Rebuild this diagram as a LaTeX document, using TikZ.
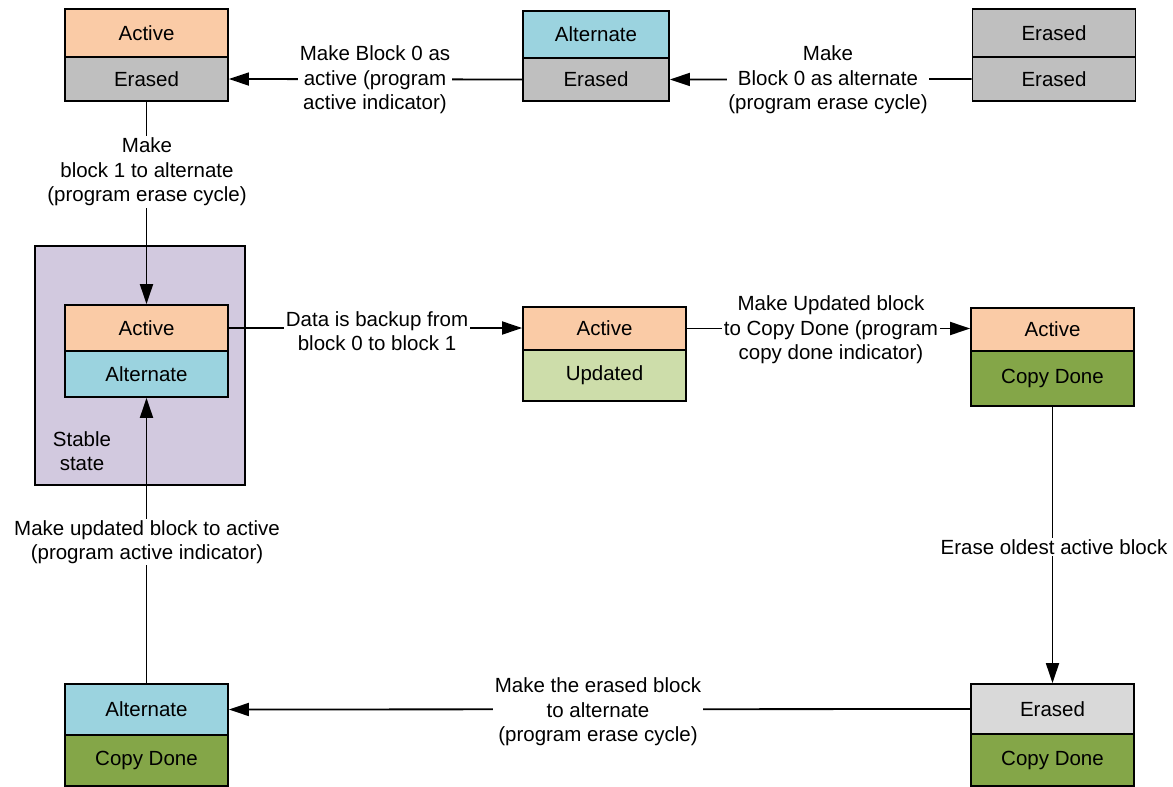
\documentclass[tikz,border=0pt]{standalone}
\usepackage{fontspec}
\setmainfont{Liberation Sans}
\usetikzlibrary{arrows.meta}
\definecolor{activeC}{RGB}{250,203,166}
\definecolor{erasedC}{RGB}{191,191,191}
\definecolor{erasedL}{RGB}{217,217,217}
\definecolor{altC}{RGB}{155,211,223}
\definecolor{updC}{RGB}{205,221,170}
\definecolor{copyC}{RGB}{132,166,72}
\definecolor{stableC}{RGB}{210,201,223}
\tikzset{
  txt/.style={font=\fontsize{20.5}{24.5}\selectfont},
  cell/.style={txt, draw=black, line width=1.8pt, minimum width=163pt, inner sep=0pt},
  lbl/.style={txt, fill=white, inner sep=1.5pt, align=center},
  arr/.style={line width=1.8pt, -{Triangle[length=20pt,width=13pt]}},
  wire/.style={line width=1.8pt}
}
\begin{document}
\begin{tikzpicture}[x=1pt,y=-1pt]
\useasboundingbox (0,0) rectangle (1173,787);

% stable state frame
\node[draw=black, line width=1.8pt, fill=stableC, minimum width=210pt, minimum height=239pt, inner sep=0pt] (stable) at (140,365.5) {};
\node[txt, align=center] (stabletxt) at (82,451) {Stable\\state};

% top row
\node[cell, fill=activeC, minimum height=48pt] (b1t) at (146.5,33) {Active};
\node[cell, fill=erasedC, minimum height=44pt] (b1b) at (146.5,79) {Erased};
\node[cell, fill=altC, minimum height=47pt, minimum width=146pt] (b2t) at (596,34.5) {Alternate};
\node[cell, fill=erasedC, minimum height=43pt, minimum width=146pt] (b2b) at (596,79.5) {Erased};
\node[cell, fill=erasedC, minimum height=48pt] (b3t) at (1054,33) {Erased};
\node[cell, fill=erasedC, minimum height=44pt] (b3b) at (1054,79) {Erased};

% middle row
\node[cell, fill=activeC, minimum height=46pt] (inA) at (146.5,328) {Active};
\node[cell, fill=altC, minimum height=46pt] (inB) at (146.5,374) {Alternate};
\node[cell, fill=activeC, minimum height=43pt] (b4t) at (604.5,328.5) {Active};
\node[cell, fill=updC, minimum height=51pt] (b4b) at (604.5,375.5) {Updated};
\node[cell, fill=activeC, minimum height=43pt] (b5t) at (1052.5,329.5) {Active};
\node[cell, fill=copyC, minimum height=55pt] (b5b) at (1052.5,378.5) {Copy Done};

% bottom row
\node[cell, fill=altC, minimum height=51pt] (b6t) at (146.5,709.5) {Alternate};
\node[cell, fill=copyC, minimum height=51pt] (b6b) at (146.5,760.5) {Copy Done};
\node[cell, fill=erasedL, minimum height=50pt] (b7t) at (1052.5,709) {Erased};
\node[cell, fill=copyC, minimum height=52pt] (b7b) at (1052.5,760) {Copy Done};

% transitions
\draw[arr] (b2b.west) -- (b1b.east);
\draw[arr] (b3b.west) -- (b2b.east);
\draw[arr] (b1b.south) -- (inA.north);
\draw[arr] (inA.east) -- (inA.east -| b4t.west);
\draw[arr] (b4t.east) -- (b4t.east -| b5t.west);
\draw[arr] (b5b.south) -- (b7t.north);
\draw[arr] (b7t.west) -- (b6t.east);
\draw[arr] (b6t.north) -- (inB.south);

% transition labels
\node[lbl] (l1) at (375,80) {Make Block 0 as\\active (program\\active indicator)};
\node[lbl] (l2) at (828,80) {Make\\Block 0 as alternate\\(program erase cycle)};
\node[lbl] (l3) at (147,172) {Make\\block 1 to alternate\\(program erase cycle)};
\node[lbl] (l4) at (377,331) {Data is backup from\\block 0 to block 1};
\node[lbl] (l5) at (831,330) {Make Updated block\\to Copy Done (program\\copy done indicator)};
\node[lbl] (l6) at (1054,547) {Erase oldest active block};
\node[lbl] (l7) at (598,712) {Make the erased block\\to alternate\\(program erase cycle)};
\node[lbl] (l8) at (147,542) {Make updated block to active\\(program active indicator)};
\end{tikzpicture}
\end{document}
